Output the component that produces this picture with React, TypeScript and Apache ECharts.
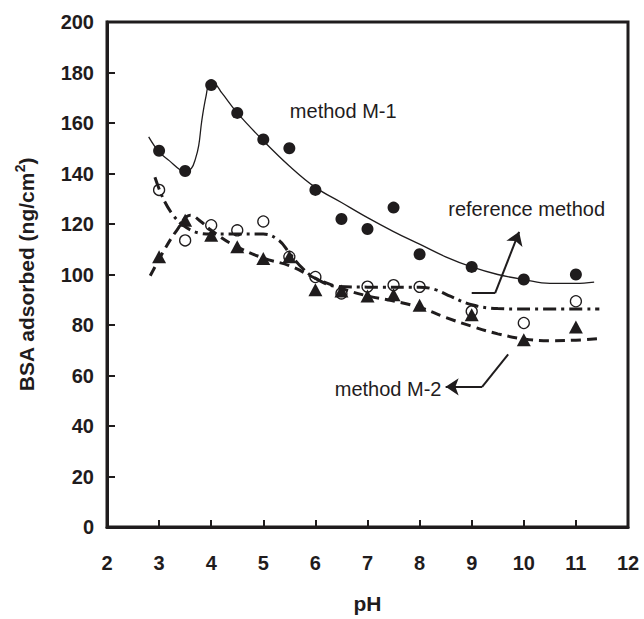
import React, { useEffect, useRef } from "react";
import * as echarts from "echarts";

// ---- measured points ----
const phPoints = [3, 3.5, 4, 4.5, 5, 5.5, 6, 6.5, 7, 7.5, 8, 9, 10, 11];
const m1Values = [149, 141, 175, 164, 153.5, 150, 133.5, 122, 118, 126.5, 108, 103, 98, 100];
const refValues = [133.5, 113.5, 119.5, 117.5, 121, 107, 99, 92.5, 95.2, 95.8, 95.1, 85.4, 80.8, 89.4];
const m2Values = [107, 121.5, 115.5, 111, 106.3, 107, 94, 93.5, 91.5, 92, 87.8, 84.1, 74.2, 79.2];

// ---- fitted curves ----
const m1CurveX = [2.8, 3.0, 3.2, 3.4, 3.5, 3.62, 3.7, 3.76, 3.82, 3.9, 3.97, 4.05, 4.2, 4.5, 5.0, 5.5, 6.0, 6.5, 7.0, 7.5, 8.0, 8.5, 9.0, 9.5, 10.0, 10.5, 11.0, 11.35];
const m1CurveY = [154.5, 148.5, 145, 141.5, 140.8, 142, 146, 151, 161, 170.5, 175.5, 175.5, 172, 164, 153, 143, 134.5, 128.5, 122.5, 117, 112, 107, 103, 100, 98, 96.5, 96.5, 97];
const refCurveX = [2.92, 3.08, 3.27, 3.46, 3.75, 4.0, 4.5, 5.0, 5.3, 5.5, 5.75, 6.0, 6.4, 7.0, 8.0, 8.3, 8.6, 9.0, 9.5, 10.0, 11.45];
const refCurveY = [138.5, 130, 123.5, 119.5, 116.5, 116, 116, 116, 113.5, 108.5, 102.5, 98.5, 95.3, 95, 95, 94, 91.3, 88, 86.5, 86.3, 86.3];
const m2CurveX = [2.83, 3.08, 3.34, 3.6, 3.8, 4.0, 4.4, 5.0, 5.5, 6.0, 6.5, 7.0, 7.5, 8.0, 8.5, 9.0, 9.5, 10.0, 10.5, 11.0, 11.45];
const m2CurveY = [99.5, 109, 117.5, 123.5, 121, 117.5, 112, 106.5, 103.5, 98.5, 94.5, 91.5, 89.5, 87, 83, 79.5, 76.5, 74.5, 73.8, 74, 74.6];

// ---- annotations (data coordinates) ----
const annotationLabels = ["method M-1", "reference method", "method M-2"];
const annotationAnchors = [[5.51, 164.6], [8.55, 125.8], [8.42, 54.8]];
const refArrowPlain = [[9.0, 92.6], [9.45, 92.6]];
const refArrowHead = [[9.45, 92.6], [9.91, 116.9]];
const m2ArrowPlain = [[9.7, 68.4], [9.2, 55.5]];
const m2ArrowHead = [[9.2, 55.5], [8.5, 55.5]];

const xTicks = { min: 2, max: 12, interval: 1 };
const yTicks = { min: 0, max: 200, interval: 20 };

const INK = "#1f1c1d";
const FONT = "'Liberation Sans', Arial, Helvetica, sans-serif";

const zip = (xs: number[], ys: number[]) => xs.map((x, i) => [x, ys[i]]);

export default function App() {
  const ref = useRef<HTMLDivElement>(null);
  useEffect(() => {
    document.body.style.margin = "0";
    const chart = echarts.init(ref.current!, null, { renderer: "svg" });
    chart.setOption({
      animation: false,
      backgroundColor: "#ffffff",
      textStyle: { fontFamily: FONT },
      grid: {
        left: 107,
        right: 16,
        top: 22,
        bottom: 90,
        show: true,
        borderColor: INK,
        borderWidth: 3,
        backgroundColor: "transparent",
      },
      xAxis: {
        type: "value",
        ...xTicks,
        name: "pH",
        nameLocation: "middle",
        nameGap: 66,
        nameTextStyle: { fontSize: 21, fontWeight: "bold", color: INK, fontFamily: FONT },
        axisLine: { show: true, lineStyle: { color: INK, width: 3 } },
        axisTick: { show: true, inside: true, length: 7, lineStyle: { color: INK, width: 2 } },
        axisLabel: { fontSize: 20, fontWeight: "bold", color: INK, margin: 26, fontFamily: FONT },
        splitLine: { show: false },
      },
      yAxis: {
        type: "value",
        ...yTicks,
        name: "{a|BSA adsorbed (ng/cm}{s|2}{a|)}",
        nameLocation: "middle",
        nameRotate: 90,
        nameGap: 68,
        nameTextStyle: {
          color: INK,
          fontFamily: FONT,
          rich: {
            a: { fontSize: 21, fontWeight: "bold", color: INK, fontFamily: FONT, lineHeight: 26 },
            s: { fontSize: 14, fontWeight: "bold", color: INK, fontFamily: FONT, verticalAlign: "top", lineHeight: 16 },
          },
        },
        axisLine: { show: true, lineStyle: { color: INK, width: 3 } },
        axisTick: { show: true, inside: true, length: 8, lineStyle: { color: INK, width: 2 } },
        axisLabel: { fontSize: 20, fontWeight: "bold", color: INK, margin: 13, fontFamily: FONT },
        splitLine: { show: false },
      },
      series: [
        {
          type: "scatter",
          name: "M-1 data",
          data: zip(phPoints, m1Values),
          symbol: "circle",
          symbolSize: 12,
          itemStyle: { color: INK, opacity: 1 },
          z: 2,
          silent: true,
        },
        {
          type: "scatter",
          name: "reference data",
          data: zip(phPoints, refValues),
          symbol: "circle",
          symbolSize: 11,
          itemStyle: { color: "rgba(255,255,255,0)", borderColor: INK, borderWidth: 1.3, opacity: 1 },
          z: 2,
          silent: true,
        },
        {
          type: "scatter",
          name: "M-2 data",
          data: zip(phPoints, m2Values),
          symbol: "triangle",
          symbolSize: [14, 13],
          itemStyle: { color: INK, opacity: 1 },
          z: 2,
          silent: true,
        },
        {
          type: "line",
          name: "M-1 fit",
          data: zip(m1CurveX, m1CurveY),
          showSymbol: false,
          smooth: 0.4,
          lineStyle: { color: INK, width: 1.3, type: "solid" },
          z: 3,
          silent: true,
        },
        {
          type: "line",
          name: "reference fit",
          data: zip(refCurveX, refCurveY),
          showSymbol: false,
          smooth: 0.4,
          lineStyle: { color: INK, width: 3, type: [13, 5, 3, 5] },
          z: 3,
          silent: true,
        },
        {
          type: "line",
          name: "M-2 fit",
          data: zip(m2CurveX, m2CurveY),
          showSymbol: false,
          smooth: 0.4,
          lineStyle: { color: INK, width: 3, type: [10, 6] },
          z: 3,
          silent: true,
        },
        {
          type: "lines",
          coordinateSystem: "cartesian2d",
          data: [{ coords: refArrowPlain }, { coords: m2ArrowPlain }],
          symbol: ["none", "none"],
          lineStyle: { color: INK, width: 2, opacity: 1, curveness: 0 },
          z: 4,
          silent: true,
        },
        {
          type: "lines",
          coordinateSystem: "cartesian2d",
          data: [{ coords: refArrowHead }, { coords: m2ArrowHead }],
          symbol: ["none", "arrow"],
          symbolSize: 13,
          itemStyle: { color: INK, opacity: 1 },
          lineStyle: { color: INK, width: 2, opacity: 1, curveness: 0 },
          z: 4,
          silent: true,
        },
        {
          type: "scatter",
          name: "annotations",
          symbolSize: 0,
          silent: true,
          z: 5,
          itemStyle: { opacity: 1 },
          data: annotationLabels.map((t, i) => ({
            name: t,
            value: annotationAnchors[i],
            label: {
              show: true,
              formatter: "{b}",
              position: i === 2 ? "left" : "right",
              distance: 0,
              fontSize: 20,
              color: INK,
              opacity: 1,
              fontFamily: FONT,
            },
          })),
        },
      ],
    });
    return () => chart.dispose();
  }, []);
  return (
    <div
      ref={ref}
      style={{ position: "absolute", left: 0, top: 0, width: 644, height: 619, background: "#fff" }}
    />
  );
}
